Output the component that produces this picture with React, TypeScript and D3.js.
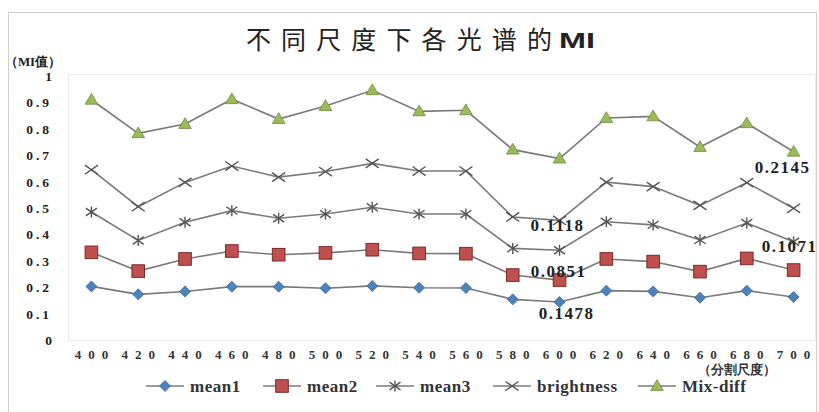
import React from "react";
import * as d3 from "d3";

const categories = ["400","420","440","460","480","500","520","540","560","580","600","620","640","660","680","700"];
const mean1 = [0.203,0.173,0.184,0.202,0.202,0.196,0.205,0.198,0.197,0.154,0.144,0.187,0.184,0.160,0.187,0.163];
const mean2 = [0.332,0.261,0.307,0.337,0.323,0.330,0.342,0.328,0.327,0.246,0.227,0.307,0.297,0.259,0.309,0.265];
const mean3 = [0.485,0.377,0.446,0.490,0.461,0.477,0.503,0.477,0.477,0.347,0.340,0.448,0.436,0.379,0.443,0.372];
const brightness = [0.645,0.505,0.597,0.659,0.617,0.638,0.669,0.640,0.640,0.466,0.453,0.598,0.581,0.510,0.596,0.499];
const mixdiff = [0.910,0.783,0.818,0.912,0.837,0.886,0.946,0.866,0.870,0.721,0.687,0.841,0.847,0.731,0.821,0.713];
const yTicks = [0,0.1,0.2,0.3,0.4,0.5,0.6,0.7,0.8,0.9,1];
const seriesNames = ["mean1","mean2","mean3","brightness","Mix-diff"];
const annotations = [
  { text: "0.1478", cat: "600", value: 0.144, dx: 7, dy: 17 },
  { text: "0.0851", cat: "600", value: 0.227, dx: -1, dy: -3 },
  { text: "0.1118", cat: "600", value: 0.453, dx: -2, dy: 10.5 },
  { text: "0.2145", cat: "700", value: 0.713, dx: -11, dy: 21 },
  { text: "0.1071", cat: "700", value: 0.372, dx: -4, dy: 10 },
];

const W = 819, H = 412;
const plot = { left: 68, right: 817, top: 76, bottom: 340 };

function Marker({ type, x, y }: { type: string; x: number; y: number }) {
  if (type === "mean1") {
    const s = 5.5;
    return <path d={`M${x},${y - s}L${x + s},${y}L${x},${y + s}L${x - s},${y}Z`} fill="#4f81bd" stroke="#3a6797" strokeWidth={0.8} />;
  }
  if (type === "mean2") {
    const s = 6.3;
    return <rect x={x - s} y={y - s} width={2 * s} height={2 * s} fill="#c0504d" stroke="#7a2a28" strokeWidth={1} />;
  }
  if (type === "mean3") {
    const s = 5.5;
    return (
      <g stroke="#555" strokeWidth={1.4}>
        <line x1={x - s} y1={y - s * 0.7} x2={x + s} y2={y + s * 0.7} />
        <line x1={x - s} y1={y + s * 0.7} x2={x + s} y2={y - s * 0.7} />
        <line x1={x} y1={y - s} x2={x} y2={y + s} />
      </g>
    );
  }
  if (type === "brightness") {
    const s = 6.5;
    return (
      <g stroke="#555" strokeWidth={1.4}>
        <line x1={x - s} y1={y - s * 0.7} x2={x + s} y2={y + s * 0.7} />
        <line x1={x - s} y1={y + s * 0.7} x2={x + s} y2={y - s * 0.7} />
      </g>
    );
  }
  const s = 6.3;
  return <path d={`M${x},${y - s}L${x + s},${y + s * 0.7}L${x - s},${y + s * 0.7}Z`} fill="#9bbb59" stroke="#708a3e" strokeWidth={0.8} />;
}

export default function App() {
  const x = d3.scaleBand<string>().domain(categories).range([plot.left, plot.right]);
  const cx = (c: string) => (x(c) as number) + x.bandwidth() / 2;
  const y = d3.scaleLinear().domain([0, 1]).range([plot.bottom, plot.top]);
  const data: Record<string, number[]> = {
    mean1, mean2, mean3, brightness, "Mix-diff": mixdiff,
  };
  const line = d3.line<number>().x((_, i) => cx(categories[i])).y((d) => y(d));
  const legendX = [165, 282, 395, 512, 657];
  const serif = { fontFamily: "'Liberation Serif', 'Times New Roman', serif" };

  return (
    <svg width={W} height={H} style={{ position: "absolute", left: 0, top: 0, background: "#fff" }}>
      <rect x={8.5} y={12.5} width={808} height={410} fill="#fff" stroke="#d0d0d0" strokeWidth={1} />
      <rect x={plot.left + 0.5} y={plot.top - 1.5} width={plot.right - plot.left - 2} height={plot.bottom - plot.top + 2} fill="none" stroke="#ececec" strokeWidth={1} />
      <text x={246} y={49} style={{ fontFamily: "'Noto Sans CJK SC', sans-serif" }} fontSize={25} fontWeight={400} fill="#222" textLength={306} lengthAdjust="spacing">不同尺度下各光谱的</text>
      <text x={559} y={48} style={{ fontFamily: "'Liberation Sans', Arial, sans-serif" }} fontSize={22} fontWeight={700} fill="#222" textLength={36} lengthAdjust="spacingAndGlyphs">MI</text>
      <text x={5} y={66} style={serif} fontSize={13} fontWeight={700} fill="#222" textLength={56} lengthAdjust="spacingAndGlyphs">（MI值）</text>
      {yTicks.map((t) => (
        <text key={t} x={52} y={y(t) + 5} textAnchor="end" style={serif} fontSize={13.5} fontWeight={700} fill="#222" letterSpacing={t === 0 || t === 1 ? 0 : 3}>{t === 0 || t === 1 ? String(t) : t.toFixed(1)}</text>
      ))}
      {categories.map((c) => (
        <text key={c} x={cx(c) + 3.5} y={359} textAnchor="middle" style={serif} fontSize={13} fontWeight={700} fill="#333" letterSpacing={7}>{c}</text>
      ))}
      <text x={698} y={374} style={serif} fontSize={13} fontWeight={700} fill="#333" textLength={78} lengthAdjust="spacingAndGlyphs">（分割尺度）</text>
      {seriesNames.map((name) => (
        <g key={name}>
          <path d={line(data[name]) || ""} fill="none" stroke="#7a7a7a" strokeWidth={1.6} />
          {data[name].map((v, i) => (
            <Marker key={i} type={name} x={cx(categories[i])} y={y(v)} />
          ))}
        </g>
      ))}
      {annotations.map((a) => (
        <text key={a.text} x={cx(a.cat) + a.dx} y={y(a.value) + a.dy} textAnchor="middle" style={serif} fontSize={17} fontWeight={700} fill="#222" letterSpacing={1.5}>{a.text}</text>
      ))}
      {seriesNames.map((name, i) => (
        <g key={name}>
          <line x1={legendX[i] - 19} x2={legendX[i] + 19} y1={386} y2={386} stroke="#7a7a7a" strokeWidth={1.6} />
          <Marker type={name} x={legendX[i]} y={386} />
          <text x={legendX[i] + 25} y={392} style={serif} fontSize={17} fontWeight={700} fill="#333" letterSpacing={0.5}>{name}</text>
        </g>
      ))}
    </svg>
  );
}
